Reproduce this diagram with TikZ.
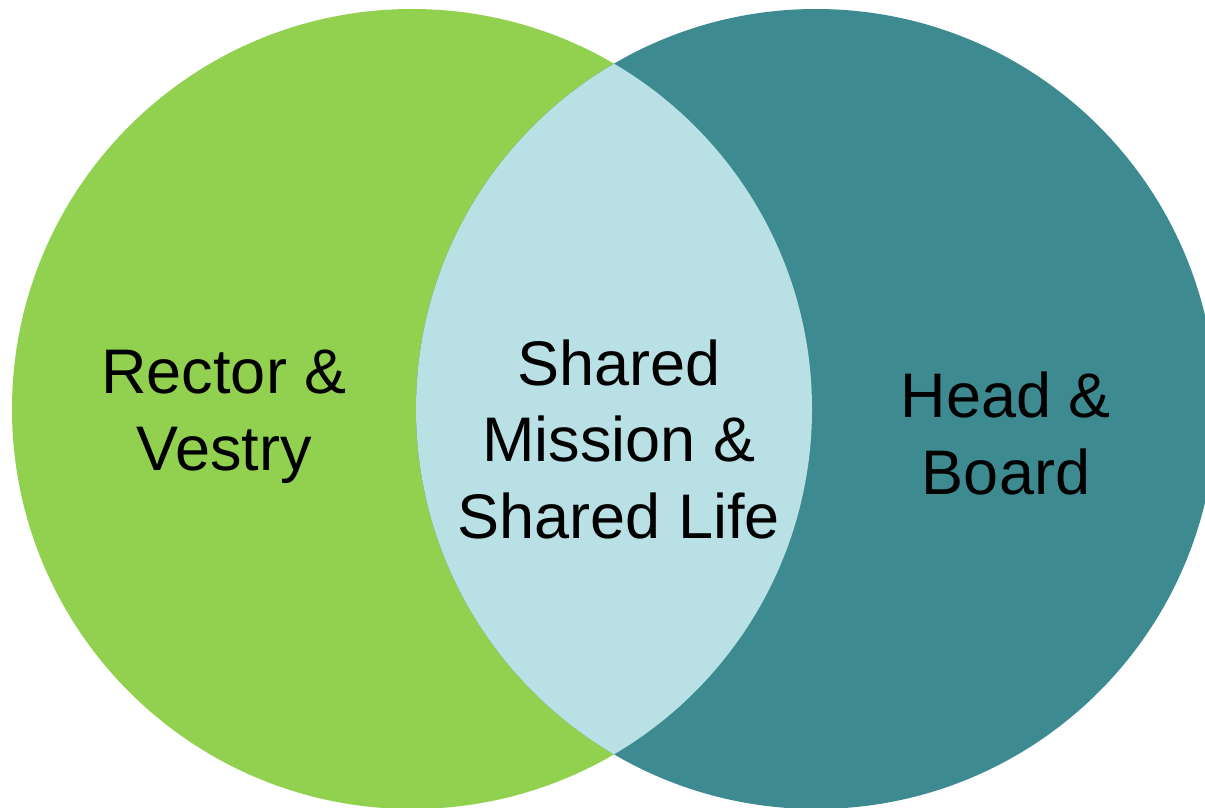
\documentclass[tikz,border=0pt]{standalone}
\usepackage{fontspec}
\setmainfont{Liberation Sans}
\definecolor{leftgreen}{RGB}{146,208,80}
\definecolor{rightteal}{RGB}{61,139,145}
\definecolor{lensblue}{RGB}{185,224,228}
\begin{document}
\begin{tikzpicture}[x=1pt,y=-1pt,
  label/.style={font=\fontsize{63}{76.5}\selectfont, align=center, inner sep=0pt, anchor=base, text=black}]
\useasboundingbox (0,0) rectangle (1205,808);
\clip (0,0) rectangle (1205,808);
\fill[leftgreen] (412,409) circle[radius=400];
\fill[rightteal] (816,409) circle[radius=400];
\begin{scope}
  \clip (412,409) circle[radius=400];
  \fill[lensblue] (816,409) circle[radius=400];
\end{scope}
\node[label] (rv) at (224,470) {Rector \&\\Vestry};
\node[label] (sm) at (619,538) {Shared\\Mission \&\\Shared Life};
\node[label] (hb) at (1006,494) {Head \&\\Board};
\end{tikzpicture}
\end{document}
